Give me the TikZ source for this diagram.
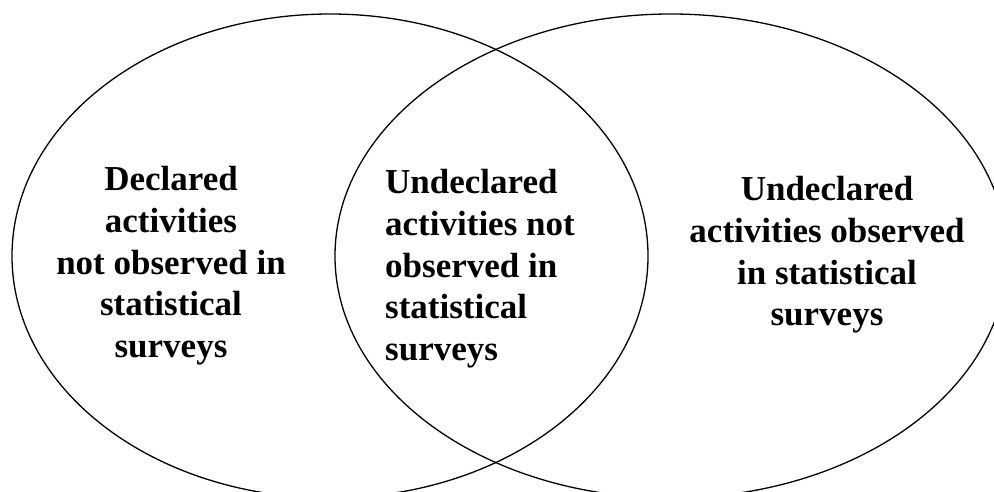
\documentclass[tikz,border=0pt]{standalone}
\usepackage{fontspec}
\setmainfont{Liberation Serif}
\begin{document}
\begin{tikzpicture}[x=1pt,y=-1pt,
  ring/.style={draw=black,line width=1.3pt},
  label/.style={font=\bfseries\fontsize{35}{41.7}\selectfont,inner sep=0pt,text=black}]
\useasboundingbox (0,0) rectangle (994,492);
\begin{scope}
\clip (0,0) rectangle (994,492);
\draw[ring] (330,256) ellipse [x radius=318pt, y radius=242pt];
\draw[ring] (671,256) ellipse [x radius=336pt, y radius=242pt];
\end{scope}
\node[label,align=center,anchor=north] (left) at (171,166.3)
  {Declared\\activities\\not observed in\\statistical\\surveys};
\node[label,align=left,anchor=north west] (mid) at (385,169.3)
  {Undeclared\\activities not\\observed in\\statistical\\surveys};
\node[label,align=center,anchor=north] (right) at (827,176.3)
  {Undeclared\\activities observed\\in statistical\\surveys};
\end{tikzpicture}
\end{document}
